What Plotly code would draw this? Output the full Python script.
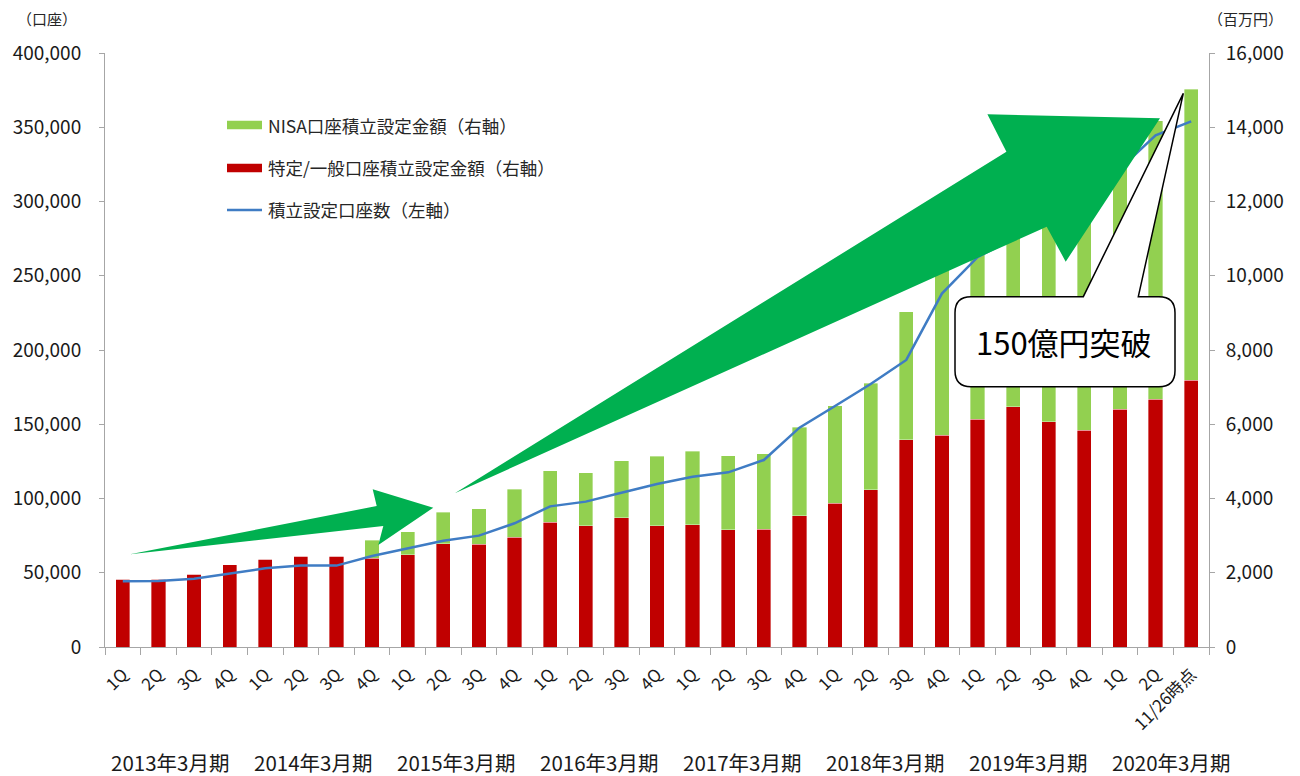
import plotly.graph_objects as go

# ---------------- data ----------------
quarter_labels = ["1Q", "2Q", "3Q", "4Q"] * 7 + ["1Q", "2Q", "11/26時点"]
fiscal_years = ["2013年3月期", "2014年3月期", "2015年3月期", "2016年3月期",
                "2017年3月期", "2018年3月期", "2019年3月期", "2020年3月期"]

# 特定/一般口座積立設定金額 (百万円, 右軸)
tokutei = [1830, 1820, 1958, 2209, 2370, 2443, 2443, 2397, 2487, 2783,
           2765, 2963, 3358, 3268, 3475, 3268, 3295, 3152, 3178, 3529,
           3870, 4238, 5576, 5710, 6141, 6465, 6061, 5845, 6402, 6680, 7184]
# NISA口座積立設定金額 (百万円, 右軸)
nisa = [0, 0, 0, 0, 0, 0, 0, 485, 619, 853,
        961, 1293, 1383, 1428, 1544, 1868, 1976, 2002, 2021, 2388,
        2622, 2873, 3448, 4590, 4759, 5135, 5939, 6655, 6898, 7490, 7836]
# 積立設定口座数 (口座, 左軸)
accounts = [44200, 44400, 46000, 49600, 53000, 54800, 54800, 61300, 66400, 71600,
            75000, 83300, 94700, 97900, 103900, 109800, 114700, 117600, 125900, 147700,
            162300, 177100, 193300, 238000, 262500, 275000, 290000, 305000, 322000, 344500, 354000]

name_nisa = "NISA口座積立設定金額（右軸）"
name_tokutei = "特定/一般口座積立設定金額（右軸）"
name_accounts = "積立設定口座数（左軸）"

# ---------------- layout geometry ----------------
OFF = 8                      # page body margin of the html page
W, H = 1300 - OFF, 776 - OFF
L, R, T, B = 105 - OFF, 91, 53 - OFF, 129
PW, PH = W - L - R, H - T - B
FONT = "Noto Sans CJK JP"
GREEN, RED, BLUE, ARROW = "#92D050", "#C00000", "#3F7CC4", "#00B050"
AXIS = "#A6A6A6"


def pp(x, y):
    """reference-pixel -> paper coordinates"""
    x, y = x - OFF, y - OFF
    return (x - L) / PW, (H - B - y) / PH


def P(x, y):
    a, b = pp(x, y)
    return f"{a:.5f},{b:.5f}"


def path(points):
    return " ".join(("M" if i == 0 else "L") + P(x, y) for i, (x, y) in enumerate(points)) + " Z"


idx = list(range(len(quarter_labels)))

fig = go.Figure()
fig.add_bar(x=idx, y=tokutei, name=name_tokutei, marker_color=RED,
            marker_line=dict(color="rgba(255,255,255,0.6)", width=0.6), yaxis="y")
fig.add_bar(x=idx, y=nisa, name=name_nisa, marker_color=GREEN,
            marker_line=dict(color="rgba(255,255,255,0.6)", width=0.6), yaxis="y")
fig.add_scatter(x=idx, y=accounts, name=name_accounts, mode="lines",
                line=dict(color=BLUE, width=2.5), yaxis="y2")

shapes = []
annotations = []

# arrows
arrow1 = [(130, 554.3), (376.7, 506), (372.7, 489.3), (433.3, 507.7),
          (378.3, 545), (383.3, 526)]
arrow2 = [(454.8, 493.3), (1006.4, 151.7), (987.4, 114.3), (1160, 118.3),
          (1065.7, 261.7), (1046.7, 226.7)]
for a in (arrow1, arrow2):
    shapes.append(dict(type="path", xref="paper", yref="paper", path=path(a),
                       fillcolor=ARROW, line=dict(width=0), layer="above"))

# callout
lft, rgt, top, bot, r = 955, 1175, 296.7, 386.7, 16
callout = (f"M{P(lft + r, top)} L{P(1083.3, top)} L{P(1183.3, 93.3)} L{P(1138.3, top)} "
           f"L{P(rgt - r, top)} Q{P(rgt, top)} {P(rgt, top + r)} "
           f"L{P(rgt, bot - r)} Q{P(rgt, bot)} {P(rgt - r, bot)} "
           f"L{P(lft + r, bot)} Q{P(lft, bot)} {P(lft, bot - r)} "
           f"L{P(lft, top + r)} Q{P(lft, top)} {P(lft + r, top)} Z")
shapes.append(dict(type="path", xref="paper", yref="paper", path=callout,
                   fillcolor="white", line=dict(color="black", width=1.5), layer="above"))
cx, cy = pp(1064, 342)
annotations.append(dict(xref="paper", yref="paper", x=cx, y=cy, text="150億円突破",
                        xanchor="center", yanchor="middle", showarrow=False,
                        font=dict(family=FONT, size=31, color="black")))

# custom legend
legend_rows = [(name_nisa, GREEN, 125, "bar"), (name_tokutei, RED, 168, "bar"),
               (name_accounts, BLUE, 210, "line")]
for text, col, y, kind in legend_rows:
    x0, y0 = pp(227, y + 4.3)
    x1, y1 = pp(262, y - 4.3)
    if kind == "bar":
        shapes.append(dict(type="rect", xref="paper", yref="paper", x0=x0, x1=x1,
                           y0=y0, y1=y1, fillcolor=col, line=dict(width=0)))
    else:
        ym = pp(0, y)[1]
        shapes.append(dict(type="line", xref="paper", yref="paper", x0=x0, x1=x1,
                           y0=ym, y1=ym, line=dict(color=col, width=2.5)))
    tx, ty = pp(266, y)
    annotations.append(dict(xref="paper", yref="paper", x=tx, y=ty, text=text,
                            xanchor="left", yanchor="middle", showarrow=False,
                            font=dict(family=FONT, size=17.5, color="#262626")))

# fiscal year labels
for g, fy in enumerate(fiscal_years):
    annotations.append(dict(xref="x", yref="paper", x=4.016 * g + 1.33, y=pp(0, 762)[1],
                            text=fy, showarrow=False, xanchor="center", yanchor="middle",
                            font=dict(family=FONT, size=20.5, color="#1a1a1a")))

# axis unit titles
ax_, ay_ = pp(47, 19)
annotations.append(dict(xref="paper", yref="paper", x=ax_, y=ay_, text="（口座）",
                        xanchor="center", yanchor="middle", showarrow=False,
                        font=dict(family=FONT, size=15, color="#262626")))
bx_, by_ = pp(1245, 19)
annotations.append(dict(xref="paper", yref="paper", x=bx_, y=by_, text="（百万円）",
                        xanchor="center", yanchor="middle", showarrow=False,
                        font=dict(family=FONT, size=15, color="#262626")))

tickfont = dict(family=FONT, size=19, color="#1a1a1a")

fig.update_layout(
    width=W, height=H,
    margin=dict(l=L, r=R, t=T, b=B, pad=0, autoexpand=False),
    paper_bgcolor="white", plot_bgcolor="white",
    barmode="stack", bargap=0.6,
    showlegend=False,
    font=dict(family=FONT),
    xaxis=dict(range=[-0.5, len(idx) - 0.5], tickmode="array", tickvals=idx,
               ticktext=quarter_labels, tickangle=-45, ticks="", showgrid=False,
               zeroline=False, showline=True, linecolor=AXIS, linewidth=1,
               automargin=False,
               tickfont=dict(family=FONT, size=17, color="#1a1a1a"),
               ticklabelstandoff=10,
               minor=dict(tickmode="array", tickvals=[i - 0.5 for i in range(len(idx) + 1)],
                          ticks="outside", ticklen=7, tickcolor=AXIS, tickwidth=1,
                          showgrid=False)),
    yaxis=dict(side="right", range=[0, 16000], dtick=2000, tickformat=",",
               showgrid=False, zeroline=False, showline=True, linecolor=AXIS,
               automargin=False,
               ticks="outside", ticklen=5, tickcolor=AXIS, tickfont=tickfont,
               ticklabelstandoff=7),
    yaxis2=dict(side="left", overlaying="y", range=[0, 400000], dtick=50000,
                tickformat=",", showgrid=False, zeroline=False, showline=True,
                automargin=False,
                linecolor=AXIS, ticks="outside", ticklen=5, tickcolor=AXIS,
                tickfont=tickfont, ticklabelstandoff=14),
    shapes=shapes,
    annotations=annotations,
)

fig.write_html("out.html")
